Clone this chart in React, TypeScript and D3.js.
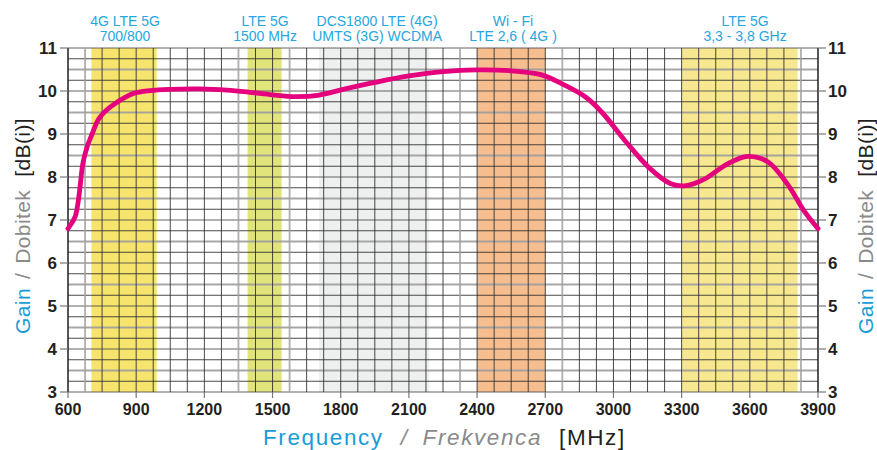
import React from "react";
import * as d3 from "d3";

const freqMHz = [600, 631, 644, 653, 666, 684, 706, 735, 775, 816, 887, 961, 1050, 1180, 1300, 1400, 1500, 1600, 1700, 1820, 1950, 2100, 2250, 2400, 2550, 2680, 2780, 2880, 2950, 3050, 3160, 3250, 3320, 3400, 3500, 3590, 3680, 3770, 3840, 3900];
const gainDb = [6.8, 7.07, 7.4, 7.77, 8.33, 8.7, 9.0, 9.35, 9.58, 9.74, 9.94, 10.01, 10.04, 10.05, 10.02, 9.97, 9.91, 9.87, 9.9, 10.05, 10.2, 10.35, 10.45, 10.49, 10.47, 10.38, 10.15, 9.85, 9.5, 8.85, 8.2, 7.85, 7.8, 7.95, 8.3, 8.48, 8.35, 7.8, 7.2, 6.8];

const xTicks = [600, 900, 1200, 1500, 1800, 2100, 2400, 2700, 3000, 3300, 3600, 3900];
const yTicks = [3, 4, 5, 6, 7, 8, 9, 10, 11];

const bandStart = [703, 1390, 1705, 2400, 3300];
const bandEnd = [990, 1540, 2190, 2700, 3810];
const bandColor = ["#f7e46c", "#e1e47a", "#eeefef", "#f6bd8e", "#f7e88f"];
const bandLine1 = ["4G LTE 5G", "LTE 5G", "DCS1800 LTE (4G)", "Wi - Fi", "LTE 5G"];
const bandLine2 = ["700/800", "1500 MHz", "UMTS (3G) WCDMA", "LTE 2,6 ( 4G )", "3,3 - 3,8 GHz"];
const bandLabelMHz = [851, 1467, 1960, 2558, 3579];

const lightGridMHz = [675, 1350, 1575, 2325, 2775, 3825];

const W = 877;
const H = 450;
const L = 68, R = 818, T = 48, B = 392;
const FONT = "'Liberation Sans', Arial, Helvetica, sans-serif";
const BLUE = "#1a9bd7";
const LABEL_BLUE = "#27a6df";
const GRAY = "#8a8a8a";
const DARK = "#231f20";

export default function App() {
  const x = d3.scaleLinear().domain([600, 3900]).range([L, R]);
  const y = d3.scaleLinear().domain([3, 11]).range([B, T]);

  const vLines = d3.range(600, 3900 + 1, 75);
  const hLines = d3.range(3, 11 + 0.001, 0.25);

  const line = d3
    .line<number>()
    .x((_, i) => x(freqMHz[i]))
    .y((d) => y(d))
    .curve(d3.curveCatmullRom.alpha(0.5));

  return (
    <svg
      width={W}
      height={H}
      viewBox={`0 0 ${W} ${H}`}
      style={{ position: "absolute", left: 0, top: 0, display: "block", background: "#fff" }}
      fontFamily={FONT}
    >
      <rect x={0} y={0} width={W} height={H} fill="#fff" />
      {bandStart.map((s, i) => (
        <rect key={"b" + i} x={x(s)} y={T} width={x(bandEnd[i]) - x(s)} height={B - T} fill={bandColor[i]} />
      ))}
      {bandStart.map((s, i) => (
        <text key={"bl" + i} x={x(bandLabelMHz[i])} textAnchor="middle" fontSize={14} fill={LABEL_BLUE}>
          <tspan x={x(bandLabelMHz[i])} y={26}>{bandLine1[i]}</tspan>
          <tspan x={x(bandLabelMHz[i])} y={41}>{bandLine2[i]}</tspan>
        </text>
      ))}
      {hLines.map((v, i) => {
        const frac = v - Math.floor(v);
        const half = Math.abs(frac - 0.5) < 0.01;
        const integer = frac < 0.01 || frac > 0.99;
        return (
          <line
            key={"h" + i}
            x1={L}
            x2={R}
            y1={y(v)}
            y2={y(v)}
            stroke={half ? "#9c9c9c" : integer ? "#4a4a4a" : "#2a2a2a"}
            strokeOpacity={half ? 0.9 : 0.85}
            strokeWidth={half ? 2.2 : 1}
          />
        );
      })}
      {vLines.map((f, i) => {
        const light = lightGridMHz.includes(f);
        return (
          <line
            key={"v" + i}
            x1={x(f)}
            x2={x(f)}
            y1={T}
            y2={B}
            stroke={light ? "#a0a0a0" : "#2a2a2a"}
            strokeOpacity={0.85}
            strokeWidth={light ? 1.8 : 1}
          />
        );
      })}
      <line x1={L} x2={L} y1={T} y2={B} stroke="#222" strokeWidth={1.2} />
      <line x1={R} x2={R} y1={T} y2={B} stroke="#222" strokeWidth={1.2} />
      {yTicks.map((t) => (
        <g key={"yt" + t}>
          <line x1={L - 8} x2={L} y1={y(t)} y2={y(t)} stroke="#777" strokeWidth={1.2} />
          <line x1={R} x2={R + 8} y1={y(t)} y2={y(t)} stroke="#777" strokeWidth={1.2} />
          <text x={57} y={y(t)} dy="0.36em" textAnchor="end" fontSize={17} fontWeight="bold" fill={DARK}>
            {t}
          </text>
          <text x={828} y={y(t)} dy="0.36em" textAnchor="start" fontSize={17} fontWeight="bold" fill={DARK}>
            {t}
          </text>
        </g>
      ))}
      {xTicks.map((t) => (
        <g key={"xt" + t}>
          <line x1={x(t)} x2={x(t)} y1={B} y2={B + 6} stroke="#777" strokeWidth={1.2} />
          <text x={x(t)} y={415} textAnchor="middle" fontSize={16} fontWeight="bold" fill={DARK}>
            {t}
          </text>
        </g>
      ))}
      <path
        d={line(gainDb) || ""}
        fill="none"
        stroke="#e5007d"
        strokeWidth={4.8}
        strokeLinecap="round"
        strokeLinejoin="round"
      />
      {/* X axis title */}
      <text x={263} y={445} fontSize={22.5} letterSpacing={1.6}>
        <tspan fill={BLUE}>Frequency</tspan>
        <tspan dx={17} fill={GRAY} fontStyle="italic">/</tspan>
        <tspan dx={14} fill={GRAY} fontStyle="italic">Frekvenca</tspan>
        <tspan dx={17} fill={DARK}>[MHz]</tspan>
      </text>
      {/* Y axis titles */}
      {[30, 873].map((bx, k) => (
        <text key={"yl" + k} transform={`translate(${bx},334) rotate(-90)`} x={0} y={0} fontSize={21} letterSpacing={0.4}>
          <tspan fill={BLUE}>Gain</tspan>
          <tspan dx={9} fill={GRAY}>/</tspan>
          <tspan dx={9} fill={GRAY}>Dobitek</tspan>
          <tspan dx={13} fill={DARK}>[dB(i)]</tspan>
        </text>
      ))}
    </svg>
  );
}
